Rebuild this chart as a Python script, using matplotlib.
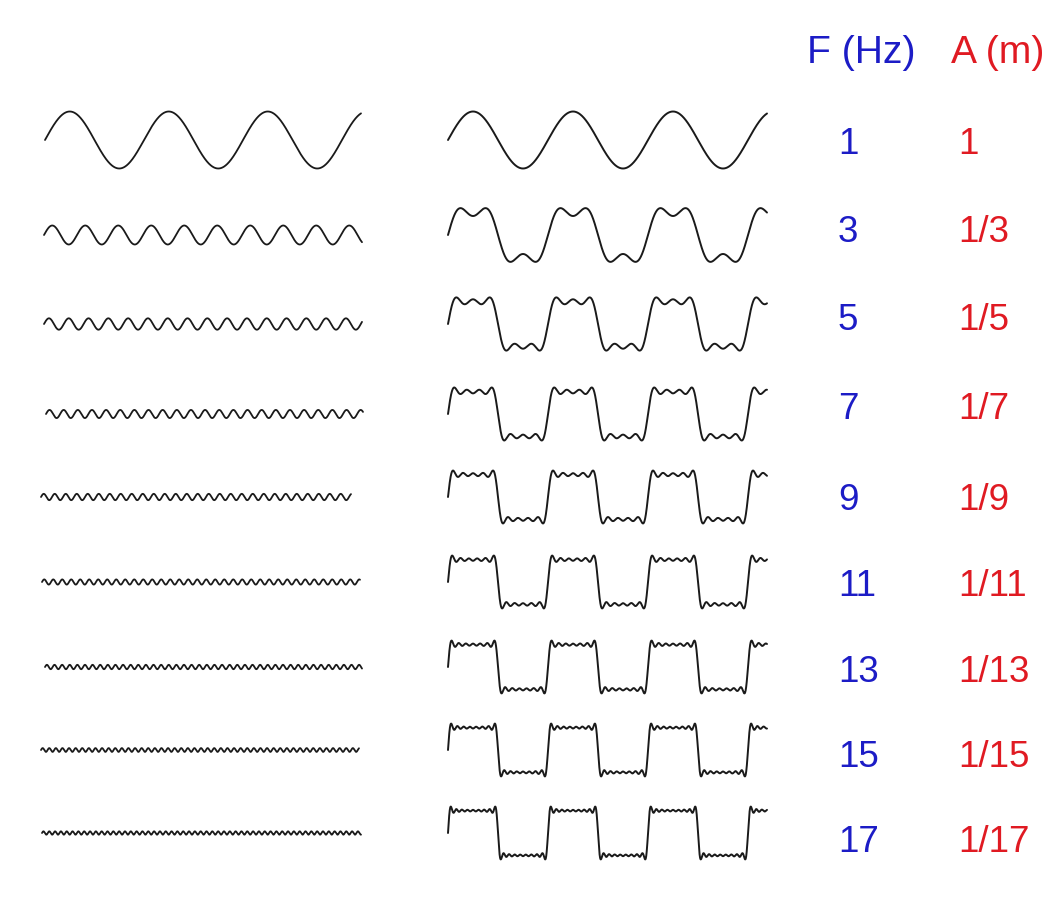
import numpy as np
import matplotlib
matplotlib.use("Agg")
import matplotlib.pyplot as plt

# ---- data ----
freqs_hz = [1, 3, 5, 7, 9, 11, 13, 15, 17]
amp_labels = ["1", "1/3", "1/5", "1/7", "1/9", "1/11", "1/13", "1/15", "1/17"]
amplitudes = [1.0 / f for f in freqs_hz]
header_f = "F (Hz)"
header_a = "A (m)"

# ---- layout (pixels) ----
W, H = 1063, 898
row_y = [140, 235, 324, 414, 497, 582, 667, 750, 833]
text_y = [141, 229, 317, 406, 497, 583, 669, 754, 839]
left_x = [(45, 361), (44, 362), (44, 362), (46, 363), (41, 351),
          (42, 360), (45, 362), (41, 359), (42, 361)]
right_x = (448, 767)
period_left = 99.0
period_right = 100.0
unit_px = 28.5
half_h = 36.0

BLUE = "#1c1cc6"
RED = "#e01a22"
LINE = "#1a1a1a"
FONT = ["Liberation Sans", "DejaVu Sans"]

fig = plt.figure(figsize=(W / 100, H / 100), dpi=100)
fig.patch.set_facecolor("white")


def add_ax(x0, x1, yc, span):
    ax = fig.add_axes([x0 / W, 1 - (yc + half_h) / H, (x1 - x0) / W, 2 * half_h / H])
    ax.set_axis_off()
    ax.set_xlim(0, span)
    ax.set_ylim(-half_h / unit_px, half_h / unit_px)
    return ax


for i, (f, a) in enumerate(zip(freqs_hz, amplitudes)):
    # left: single harmonic
    x0, x1 = left_x[i]
    span = (x1 - x0) / period_left
    t = np.linspace(0, span, 4000)
    ax = add_ax(x0, x1, row_y[i], span)
    ax.plot(t, a * np.sin(2 * np.pi * f * t), color=LINE, lw=1.3,
            clip_on=False, solid_capstyle="round")

    # right: partial sum up to this harmonic
    rx0, rx1 = right_x
    rspan = (rx1 - rx0) / period_right
    tr = np.linspace(0, rspan, 6000)
    s = np.zeros_like(tr)
    for ff, aa in zip(freqs_hz[: i + 1], amplitudes[: i + 1]):
        s += aa * np.sin(2 * np.pi * ff * tr)
    axr = add_ax(rx0, rx1, row_y[i], rspan)
    axr.plot(tr, s, color=LINE, lw=1.4, clip_on=False, solid_capstyle="round")

# ---- text ----
hdr_px = 39.0
num_px = 36.8
fig.text(807 / W, 1 - 63 / H, header_f, color=BLUE, fontsize=hdr_px * 0.72,
         family=FONT, ha="left", va="baseline")
fig.text(951 / W, 1 - 63 / H, header_a, color=RED, fontsize=hdr_px * 0.72,
         family=FONT, ha="left", va="baseline")

for i, (f, lab) in enumerate(zip(freqs_hz, amp_labels)):
    base = text_y[i] + 0.716 * num_px / 2
    fig.text(838 / W, 1 - base / H, str(f), color=BLUE, fontsize=num_px * 0.72,
             family=FONT, ha="left", va="baseline")
    fig.text(958 / W, 1 - base / H, lab, color=RED, fontsize=num_px * 0.72,
             family=FONT, ha="left", va="baseline")

fig.savefig("out.png", dpi=100, facecolor="white")
